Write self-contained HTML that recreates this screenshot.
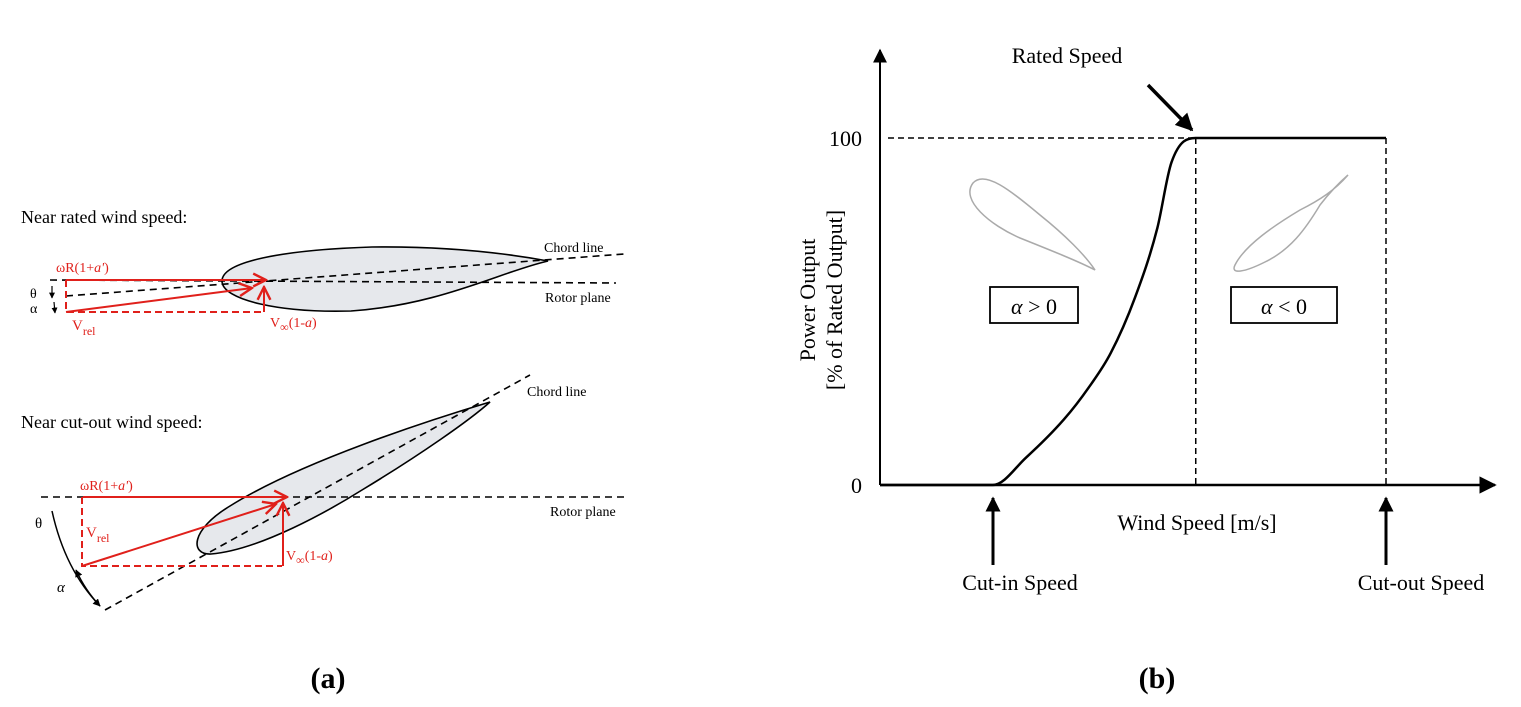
<!DOCTYPE html>
<html><head><meta charset="utf-8"><style>
html,body{margin:0;padding:0;background:#fff;}
svg{display:block;font-family:"Liberation Serif",serif;}
</style></head><body>
<svg width="1521" height="707" viewBox="0 0 1521 707">
<defs>
<marker id="ar" viewBox="0 0 10 10" refX="9" refY="5" markerWidth="7" markerHeight="7" orient="auto"><path d="M0,0 L10,5 L0,10 z" fill="#000"/></marker>
<marker id="rv" viewBox="0 0 10 10" refX="9" refY="5" markerWidth="8" markerHeight="8" orient="auto"><path d="M1,1 L9,5 L1,9" fill="none" stroke="#e0201b" stroke-width="1.5"/></marker>
<marker id="bk" viewBox="0 0 10 10" refX="9" refY="5" markerWidth="5" markerHeight="5" orient="auto"><path d="M0,0 L10,5 L0,10 z" fill="#000"/></marker>
</defs>

<!-- Panel (a) -->
<g>
<text x="21" y="223" font-size="18">Near rated wind speed:</text>
<path d="M222,281 C222,262 280,250 372,247 C450,246 510,254 548,261 C500,272 440,305 351,311 C280,313 222,300 222,281 Z" fill="#e6e8ec" stroke="#000" stroke-width="1.6"/>
<line x1="66" y1="296" x2="624" y2="254" stroke="#000" stroke-width="1.6" stroke-dasharray="7,5"/>
<line x1="50" y1="280" x2="616" y2="283" stroke="#000" stroke-width="1.6" stroke-dasharray="7,5"/>
<line x1="66" y1="280" x2="266" y2="280" stroke="#e0201b" stroke-width="2" marker-end="url(#rv)"/>
<path d="M66,280 V312 H264" fill="none" stroke="#e0201b" stroke-width="2" stroke-dasharray="7,4"/>
<line x1="264" y1="312" x2="264" y2="287" stroke="#e0201b" stroke-width="2" marker-end="url(#rv)"/>
<line x1="66" y1="312" x2="252" y2="288" stroke="#e0201b" stroke-width="2" marker-end="url(#rv)"/>
<text x="30" y="298" font-size="14">θ</text>
<text x="30" y="313" font-size="14">α</text>
<line x1="52" y1="286" x2="52" y2="298" stroke="#000" stroke-width="1.2" marker-end="url(#bk)"/>
<line x1="54" y1="302" x2="55" y2="313" stroke="#000" stroke-width="1.2" marker-end="url(#bk)"/>
<text x="56" y="272" font-size="14" fill="#e0201b">ωR(1+<tspan font-style="italic">a'</tspan>)</text>
<text x="72" y="330" font-size="15" fill="#e0201b">V<tspan font-size="12" dy="5">rel</tspan></text>
<text x="270" y="327" font-size="14" fill="#e0201b">V<tspan font-size="12" dy="4">∞</tspan><tspan dy="-4">(1-</tspan><tspan font-style="italic">a</tspan>)</text>
<text x="544" y="252" font-size="14">Chord line</text>
<text x="545" y="302" font-size="14">Rotor plane</text>

<text x="21" y="428" font-size="18">Near cut-out wind speed:</text>
<path d="M490,402 C430,420 300,462 230,506 C190,530 190,555 211,554 C260,550 330,510 362,490 C420,455 470,420 490,402 Z" fill="#e6e8ec" stroke="#000" stroke-width="1.6"/>
<line x1="105" y1="610" x2="530" y2="375" stroke="#000" stroke-width="1.6" stroke-dasharray="7,5"/>
<line x1="41" y1="497" x2="628" y2="497" stroke="#000" stroke-width="1.6" stroke-dasharray="7,5"/>
<line x1="83" y1="497" x2="287" y2="497" stroke="#e0201b" stroke-width="2" marker-end="url(#rv)"/>
<path d="M82,497 V566 H282" fill="none" stroke="#e0201b" stroke-width="2" stroke-dasharray="7,4"/>
<line x1="283" y1="566" x2="283" y2="503" stroke="#e0201b" stroke-width="2" marker-end="url(#rv)"/>
<line x1="82" y1="566" x2="276" y2="504" stroke="#e0201b" stroke-width="2" marker-end="url(#rv)"/>
<path d="M52,511 Q65,570 100,606" fill="none" stroke="#000" stroke-width="1.5" marker-end="url(#bk)"/>
<path d="M100,606 Q85,590 76,570" fill="none" stroke="#000" stroke-width="1.5" marker-end="url(#bk)"/>
<text x="35" y="528" font-size="15">θ</text>
<text x="57" y="592" font-size="15" font-style="italic">α</text>
<text x="80" y="490" font-size="14" fill="#e0201b">ωR(1+<tspan font-style="italic">a'</tspan>)</text>
<text x="86" y="537" font-size="15" fill="#e0201b">V<tspan font-size="12" dy="5">rel</tspan></text>
<text x="286" y="560" font-size="14" fill="#e0201b">V<tspan font-size="12" dy="4">∞</tspan><tspan dy="-4">(1-</tspan><tspan font-style="italic">a</tspan>)</text>
<text x="527" y="396" font-size="14">Chord line</text>
<text x="550" y="516" font-size="14">Rotor plane</text>
<text x="328" y="688" font-size="30" font-weight="bold" text-anchor="middle">(a)</text>
</g>

<!-- Panel (b) -->
<g id="chart">
<line x1="880" y1="485" x2="880" y2="50" stroke="#000" stroke-width="2" marker-end="url(#ar)"/>
<line x1="880" y1="485" x2="1495" y2="485" stroke="#000" stroke-width="2.5" marker-end="url(#ar)"/>
<text x="862" y="146" font-size="22" text-anchor="end">100</text>
<text x="862" y="493" font-size="22" text-anchor="end">0</text>
<text transform="translate(815,300) rotate(-90)" font-size="22" text-anchor="middle">Power Output</text>
<text transform="translate(842,300) rotate(-90)" font-size="22" text-anchor="middle">[% of Rated Output]</text>
<text x="1197" y="530" font-size="22" text-anchor="middle">Wind Speed [m/s]</text>
<text x="1067" y="63" font-size="22" text-anchor="middle">Rated Speed</text>
<line x1="1148" y1="85" x2="1192" y2="130" stroke="#000" stroke-width="3.5" marker-end="url(#bk)"/>
<text x="1020" y="590" font-size="22" text-anchor="middle">Cut-in Speed</text>
<line x1="993" y1="565" x2="993" y2="498" stroke="#000" stroke-width="3" marker-end="url(#bk)"/>
<text x="1421" y="590" font-size="22" text-anchor="middle">Cut-out Speed</text>
<line x1="1386" y1="565" x2="1386" y2="498" stroke="#000" stroke-width="3" marker-end="url(#bk)"/>
<path d="M973,183 C985,170 1010,190 1040,215 C1065,235 1085,255 1095,270 C1080,262 1050,250 1020,238 C990,225 960,200 973,183 Z" fill="none" stroke="#aaa" stroke-width="1.5"/>
<path d="M1348,175 C1335,190 1320,200 1300,210 C1275,225 1245,245 1235,265 C1230,275 1245,272 1265,262 C1290,250 1305,230 1320,205 C1330,192 1340,182 1348,175 Z" fill="none" stroke="#aaa" stroke-width="1.5"/>
<rect x="990" y="287" width="88" height="36" fill="#fff" stroke="#000" stroke-width="1.8"/>
<text x="1034" y="314" font-size="22" text-anchor="middle"><tspan font-style="italic">α</tspan> &gt; 0</text>
<rect x="1231" y="287" width="106" height="36" fill="#fff" stroke="#000" stroke-width="1.8"/>
<text x="1284" y="314" font-size="22" text-anchor="middle"><tspan font-style="italic">α</tspan> &lt; 0</text>
<text x="1157" y="688" font-size="30" font-weight="bold" text-anchor="middle">(b)</text>
</g>
<script>
// data: wind speed (m/s) and power (% of rated)
const windSpeeds = [0, 5.58, 7.2, 9.1, 10.3, 11.4, 12.6, 13.7, 14.4, 15.6, 25.0];
const powerPct   = [0, 0, 7.8, 19, 28, 38, 54, 74, 93, 100, 100];
const ratedSpeed = 15.6;
const cutoutSpeed = 25.0;
const yTicks = [0, 100];

const NS = 'http://www.w3.org/2000/svg';
const chartG = document.getElementById('chart');
function xs(v){ return 880 + v * 20.24; }
function ys(p){ return 485 - p * 3.47; }

// monotone cubic (Fritsch-Carlson) in pixel space
const P = windSpeeds.map(function(w, i){ return [xs(w), ys(powerPct[i])]; });
const n = P.length;
const dk = [], m = [];
for (let i = 0; i < n - 1; i++) dk.push((P[i+1][1] - P[i][1]) / (P[i+1][0] - P[i][0]));
m.push(dk[0]);
for (let i = 1; i < n - 1; i++) m.push(dk[i-1] * dk[i] <= 0 ? 0 : (dk[i-1] + dk[i]) / 2);
m.push(dk[n-2]);
for (let i = 0; i < n - 1; i++) {
  if (dk[i] === 0) { m[i] = 0; m[i+1] = 0; continue; }
  const a = m[i] / dk[i], b = m[i+1] / dk[i], s = a*a + b*b;
  if (s > 9) { const t = 3 / Math.sqrt(s); m[i] = t*a*dk[i]; m[i+1] = t*b*dk[i]; }
}
let d = 'M' + P[0][0].toFixed(1) + ',' + P[0][1].toFixed(1);
for (let i = 0; i < n - 1; i++) {
  const h = (P[i+1][0] - P[i][0]) / 3;
  d += ' C' + (P[i][0] + h).toFixed(1) + ',' + (P[i][1] + m[i]*h).toFixed(1) + ' ' +
       (P[i+1][0] - h).toFixed(1) + ',' + (P[i+1][1] - m[i+1]*h).toFixed(1) + ' ' +
       P[i+1][0].toFixed(1) + ',' + P[i+1][1].toFixed(1);
}
const curve = document.createElementNS(NS, 'path');
curve.setAttribute('d', d);
curve.setAttribute('fill', 'none');
curve.setAttribute('stroke', '#000');
curve.setAttribute('stroke-width', '2.5');
curve.setAttribute('stroke-linejoin', 'round');


chartG.appendChild(curve);

function dashed(x1, y1, x2, y2, name){
  const l = document.createElementNS(NS, 'line');
  l.setAttribute('x1', x1); l.setAttribute('y1', y1);
  l.setAttribute('x2', x2); l.setAttribute('y2', y2);
  l.setAttribute('stroke', '#000');
  l.setAttribute('stroke-width', '1.5');
  l.setAttribute('stroke-dasharray', '6,4');
  
  
  chartG.appendChild(l);
}
const topY = ys(yTicks[1]);
dashed(888, topY, xs(ratedSpeed), topY, 'rated-power-guide');
dashed(xs(ratedSpeed), topY, xs(ratedSpeed), ys(0), 'rated-speed-guide');
dashed(xs(cutoutSpeed), topY, xs(cutoutSpeed), ys(0), 'cut-out-guide');
</script>
</svg>
</body></html>
